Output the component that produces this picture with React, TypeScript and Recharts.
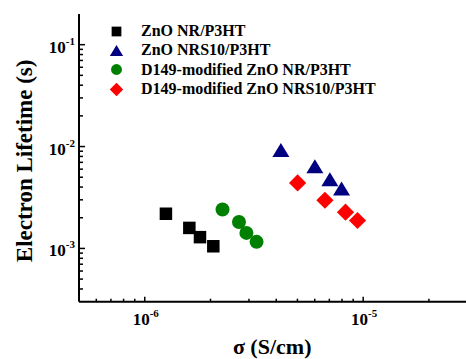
import React from "react";
import { Legend, Scatter, ScatterChart, XAxis, YAxis } from "recharts";

const seriesNames = [
  "ZnO NR/P3HT",
  "ZnO NRS10/P3HT",
  "D149-modified ZnO NR/P3HT",
  "D149-modified ZnO NRS10/P3HT",
];
const seriesColors = ["#000000", "#000080", "#008000", "#ff0000"];
const seriesShapes = ["square", "triangle", "circle", "diamond"];

// conductivity (S/cm) and electron lifetime (s)
const nrSigma = [1.25e-6, 1.6e-6, 1.79e-6, 2.06e-6];
const nrLifetime = [2.19e-3, 1.59e-3, 1.29e-3, 1.05e-3];
const nrs10Sigma = [4.2e-6, 6.01e-6, 7.04e-6, 7.96e-6];
const nrs10Lifetime = [9.25e-3, 6.39e-3, 4.77e-3, 3.87e-3];
const d149NrSigma = [2.27e-6, 2.7e-6, 2.92e-6, 3.25e-6];
const d149NrLifetime = [2.41e-3, 1.82e-3, 1.42e-3, 1.16e-3];
const d149Nrs10Sigma = [5.01e-6, 6.68e-6, 8.3e-6, 9.42e-6];
const d149Nrs10Lifetime = [4.39e-3, 2.97e-3, 2.27e-3, 1.88e-3];

const xDomain = [5e-7, 3e-5];
const yDomain = [3e-4, 0.2];
const xTicks = [
  6e-7, 7e-7, 8e-7, 9e-7, 1e-6, 2e-6, 3e-6, 4e-6, 5e-6, 6e-6, 7e-6, 8e-6, 9e-6, 1e-5, 2e-5,
];
const yTicks = [
  4e-4, 5e-4, 6e-4, 7e-4, 8e-4, 9e-4, 1e-3, 2e-3, 3e-3, 4e-3, 5e-3, 6e-3, 7e-3, 8e-3, 9e-3,
  1e-2, 2e-2, 3e-2, 4e-2, 5e-2, 6e-2, 7e-2, 8e-2, 9e-2, 1e-1,
];

const toPoints = (xs: number[], ys: number[]) => xs.map((x, i) => ({ x, y: ys[i] }));
const seriesData = [
  toPoints(nrSigma, nrLifetime),
  toPoints(nrs10Sigma, nrs10Lifetime),
  toPoints(d149NrSigma, d149NrLifetime),
  toPoints(d149Nrs10Sigma, d149Nrs10Lifetime),
];

const FONT = '"Liberation Serif", "Times New Roman", serif';

const isDecade = (v: number) => Math.abs(Math.log10(v) - Math.round(Math.log10(v))) < 1e-6;

function marker(shape: string, cx: number, cy: number, color: string, k: number) {
  if (shape === "square") {
    const s = 12.5 * k;
    return <rect x={cx - s / 2} y={cy - s / 2} width={s} height={s} fill={color} />;
  }
  if (shape === "circle") {
    return <circle cx={cx} cy={cy} r={7 * k} fill={color} />;
  }
  if (shape === "triangle") {
    const w = 17 * k;
    const h = 14 * k;
    return (
      <polygon
        points={`${cx},${cy - h / 2} ${cx - w / 2},${cy + h / 2} ${cx + w / 2},${cy + h / 2}`}
        fill={color}
      />
    );
  }
  const d = 8.6 * k;
  return <polygon points={`${cx},${cy - d} ${cx + d},${cy} ${cx},${cy + d} ${cx - d},${cy}`} fill={color} />;
}

function XTick(props: any) {
  const { x, y, payload } = props;
  const major = isDecade(payload.value);
  const exp = Math.round(Math.log10(payload.value));
  return (
    <g>
      <line x1={x} x2={x} y1={y} y2={y - (major ? 5 : 3)} stroke="#000" strokeWidth={1.5} />
      {major && (
        <text x={x + 1} y={y + 23} textAnchor="middle" fontFamily={FONT} fontWeight="bold" fontSize={17} fill="#000">
          <tspan>10</tspan>
          <tspan dy={-8} fontSize={11}>{exp}</tspan>
        </text>
      )}
    </g>
  );
}

function YTick(props: any) {
  const { x, y, payload } = props;
  const major = isDecade(payload.value);
  const exp = Math.round(Math.log10(payload.value));
  return (
    <g>
      <line x1={x} x2={x + (major ? 6 : 4)} y1={y} y2={y} stroke="#000" strokeWidth={1.5} />
      {major && (
        <text x={x - 4} y={y + 8} textAnchor="end" fontFamily={FONT} fontWeight="bold" fontSize={17} fill="#000">
          <tspan>10</tspan>
          <tspan dy={-8} fontSize={11}>{exp}</tspan>
        </text>
      )}
    </g>
  );
}

function LegendBox() {
  return (
    <div style={{ fontFamily: FONT, fontWeight: "bold", fontSize: 16, color: "#000" }}>
      {seriesNames.map((name, i) => (
        <div key={name} style={{ display: "flex", alignItems: "center", height: 19.3, whiteSpace: "nowrap" }}>
          <svg width={20} height={19} style={{ marginRight: 14 }}>
            {marker(seriesShapes[i], 9.5, 9.5, seriesColors[i], 0.78)}
          </svg>
          <span>{name}</span>
        </div>
      ))}
    </div>
  );
}

export default function App() {
  return (
    <div style={{ position: "absolute", left: 0, top: 0, width: 466, height: 359, overflow: "hidden", background: "#fff" }}>
      <ScatterChart width={470} height={359} margin={{ top: 14, right: 2.6, bottom: 0, left: 0 }}>
        <XAxis
          xAxisId="top"
          orientation="top"
          type="number"
          scale="log"
          domain={xDomain}
          allowDataOverflow
          height={0}
          tick={false}
          tickLine={false}
          axisLine={{ stroke: "#000", strokeWidth: 2 }}
        />
        <XAxis
          dataKey="x"
          type="number"
          scale="log"
          domain={xDomain}
          allowDataOverflow
          ticks={xTicks}
          interval={0}
          tickSize={0}
          tickMargin={0}
          tickLine={false}
          tick={<XTick />}
          height={57.3}
          axisLine={{ stroke: "#000", strokeWidth: 2 }}
          label={{
            content: (p: any) => (
              <text
                x={p.viewBox.x + p.viewBox.width / 2 - 1}
                y={p.viewBox.y + 52.5}
                textAnchor="middle"
                fontFamily={FONT}
                fontWeight="bold"
                fontSize={22}
                fill="#000"
              >
                σ (S/cm)
              </text>
            ),
          }}
        />
        <YAxis
          dataKey="y"
          type="number"
          scale="log"
          domain={yDomain}
          allowDataOverflow
          ticks={yTicks}
          interval={0}
          tickSize={0}
          tickMargin={0}
          tickLine={false}
          tick={<YTick />}
          width={79}
          axisLine={{ stroke: "#000", strokeWidth: 2 }}
          label={{
            content: (p: any) => {
              const cx = p.viewBox.x + 32;
              const cy = p.viewBox.y + p.viewBox.height / 2 + 3;
              return (
                <text
                  x={cx}
                  y={cy}
                  transform={`rotate(-90 ${cx} ${cy})`}
                  textAnchor="middle"
                  fontFamily={FONT}
                  fontWeight="bold"
                  fontSize={23}
                  fill="#000"
                >
                  Electron Lifetime (s)
                </text>
              );
            },
          }}
        />
        <Legend
          layout="vertical"
          align="center"
          verticalAlign="middle"
          wrapperStyle={{ left: 107, top: 21.5, width: 330 }}
          content={() => <LegendBox />}
        />
        {seriesData.map((data, i) => (
          <Scatter
            key={seriesNames[i]}
            name={seriesNames[i]}
            data={data}
            fill={seriesColors[i]}
            isAnimationActive={false}
            shape={(p: any) => marker(seriesShapes[i], p.cx, p.cy, seriesColors[i], 1)}
          />
        ))}
      </ScatterChart>
    </div>
  );
}
